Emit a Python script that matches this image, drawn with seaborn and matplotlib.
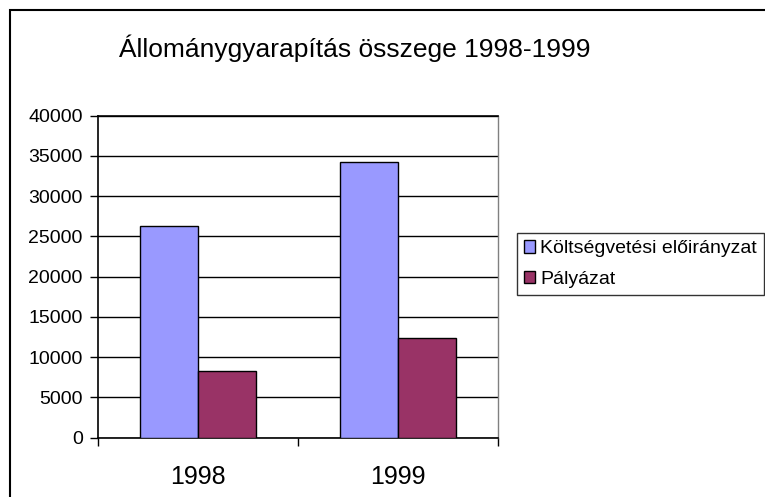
import pandas as pd
import matplotlib.pyplot as plt
import matplotlib.patches as patches
import seaborn as sns

years = ['1998', '1999']
series = ['Költségvetési előirányzat', 'Pályázat']
koltsegvetes = [26300, 34200]
palyazat = [8300, 12350]
colors = ['#9999FF', '#993366']

df = pd.DataFrame({
    'year': years * 2,
    'series': [series[0]] * 2 + [series[1]] * 2,
    'value': koltsegvetes + palyazat,
})

sns.set_style('white')
plt.rcParams['font.family'] = ['Liberation Sans', 'DejaVu Sans']
plt.rcParams['text.color'] = 'black'
plt.rcParams['xtick.color'] = 'black'
plt.rcParams['ytick.color'] = 'black'

fig = plt.figure(figsize=(7.65, 4.97), dpi=100)
ax = fig.add_axes([98 / 765, 1 - 437.7 / 497, 400 / 765, 322 / 497])

sns.barplot(data=df, x='year', y='value', hue='series', palette=colors,
            saturation=1, width=0.58, edgecolor='black', linewidth=1,
            ax=ax, zorder=3)

ax.set_ylim(0, 40000)
ax.set_xlim(-0.5, 1.5)
ax.set_yticks(range(0, 40001, 5000))
ax.yaxis.grid(True, color='black', linewidth=1)
ax.set_axisbelow(True)
ax.set_xlabel('')
ax.set_ylabel('')

for side in ['left', 'bottom', 'top']:
    ax.spines[side].set_color('black')
    ax.spines[side].set_linewidth(1.2)
ax.spines['right'].set_color('#808080')
ax.spines['right'].set_linewidth(1)

ax.tick_params(axis='y', direction='out', length=6, width=1, color='black',
               pad=5, labelsize=14, left=True)
ax.tick_params(axis='x', which='major', length=0, pad=20, labelsize=18)
ax.set_xticks([-0.5, 0.5, 1.5], minor=True)
ax.tick_params(axis='x', which='minor', direction='out', length=6, width=1,
               color='black', bottom=True)

handles, labels = ax.get_legend_handles_labels()
ax.get_legend().remove()
leg = fig.legend(handles, labels, loc='center left',
                 bbox_to_anchor=(517 / 765, 1 - 264 / 497),
                 bbox_transform=fig.transFigure, fontsize=14,
                 handlelength=0.6, handleheight=0.6, handletextpad=0.25,
                 labelspacing=0.7, borderpad=0.35, borderaxespad=0,
                 fancybox=False, frameon=True, edgecolor='black')
leg.get_frame().set_linewidth(1)

fig.text(354.5 / 765, 1 - 48 / 497, 'Állománygyarapítás összege 1998-1999',
         ha='center', va='center', fontsize=19)

frame = patches.Rectangle((9.5 / 765, -0.1), 1.2, 1.1 - 10 / 497, fill=False,
                          edgecolor='black', linewidth=1.5,
                          transform=fig.transFigure, clip_on=False)
fig.patches.append(frame)

fig.savefig('out.png', dpi=100)
